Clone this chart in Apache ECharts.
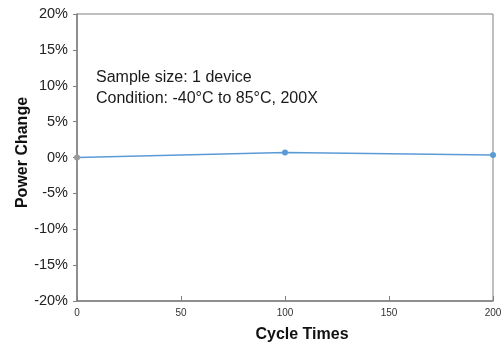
<!DOCTYPE html>
<html>
<head>
<meta charset="utf-8">
<script src="https://cdn.jsdelivr.net/npm/echarts@6/dist/echarts.min.js"></script>
<style>
  html, body { margin: 0; padding: 0; background: #fff; }
  #chart { width: 502px; height: 343px; }
</style>
</head>
<body>
<div id="chart"></div>
<script>
const cycles = [0, 100, 200];
const powerChange = [0, 0.7, 0.35];
const pointColors = ["#9a9a9a", "#5b9bd5", "#5b9bd5"];
const noteLines = ["Sample size: 1 device", "Condition: -40\u00b0C to 85\u00b0C, 200X"];

const chart = echarts.init(document.getElementById("chart"), null, { renderer: "canvas" });
const axisGrey = "#7f7f7f";
const font = "Liberation Sans, Arial, sans-serif";

chart.setOption({
  animation: false,
  backgroundColor: "#fff",
  grid: {
    left: 77, right: 9, top: 14, bottom: 42,
    outerBoundsMode: "none", containLabel: false,
    show: true, borderColor: axisGrey, borderWidth: 1
  },
  xAxis: {
    type: "value",
    min: 0, max: 200, interval: 50,
    name: "Cycle Times",
    nameLocation: "middle",
    nameGap: 26,
    nameTextStyle: { fontFamily: font, fontWeight: "bold", fontSize: 16, color: "#111", padding: [0, 0, 0, 34] },
    axisLine: { onZero: false, lineStyle: { color: axisGrey, width: 1.5 } },
    axisTick: { inside: true, length: 5, lineStyle: { color: axisGrey } },
    axisLabel: { fontFamily: font, fontSize: 10, color: "#333", margin: 7 },
    splitLine: { show: false }
  },
  yAxis: {
    type: "value",
    min: -20, max: 20, interval: 5,
    name: "Power Change",
    nameLocation: "middle",
    nameRotate: 90,
    nameGap: 46,
    nameMoveOverlap: false,
    nameTextStyle: { fontFamily: font, fontWeight: "bold", fontSize: 16, color: "#111", padding: [0, 0, 0, 10] },
    axisLine: { onZero: false, lineStyle: { color: axisGrey, width: 1.5 } },
    axisTick: { inside: false, length: 4, lineStyle: { color: axisGrey } },
    axisLabel: { fontFamily: font, fontSize: 14.5, color: "#222", margin: 9, formatter: "{value}%" },
    splitLine: { show: false }
  },
  series: [{
    type: "line",
    data: cycles.map((c, i) => ({ value: [c, powerChange[i]], itemStyle: { color: pointColors[i] } })),
    symbol: "circle",
    symbolSize: 6,
    lineStyle: { color: "#5b9bd5", width: 1.5 },
    itemStyle: { color: "#5b9bd5" }
  }],
  graphic: [{
    type: "text",
    left: 96,
    top: 67,
    style: {
      text: noteLines.join("\n"),
      font: "16px " + font,
      fill: "#1a1a1a",
      lineHeight: 21
    }
  }]
});
</script>
</body>
</html>
